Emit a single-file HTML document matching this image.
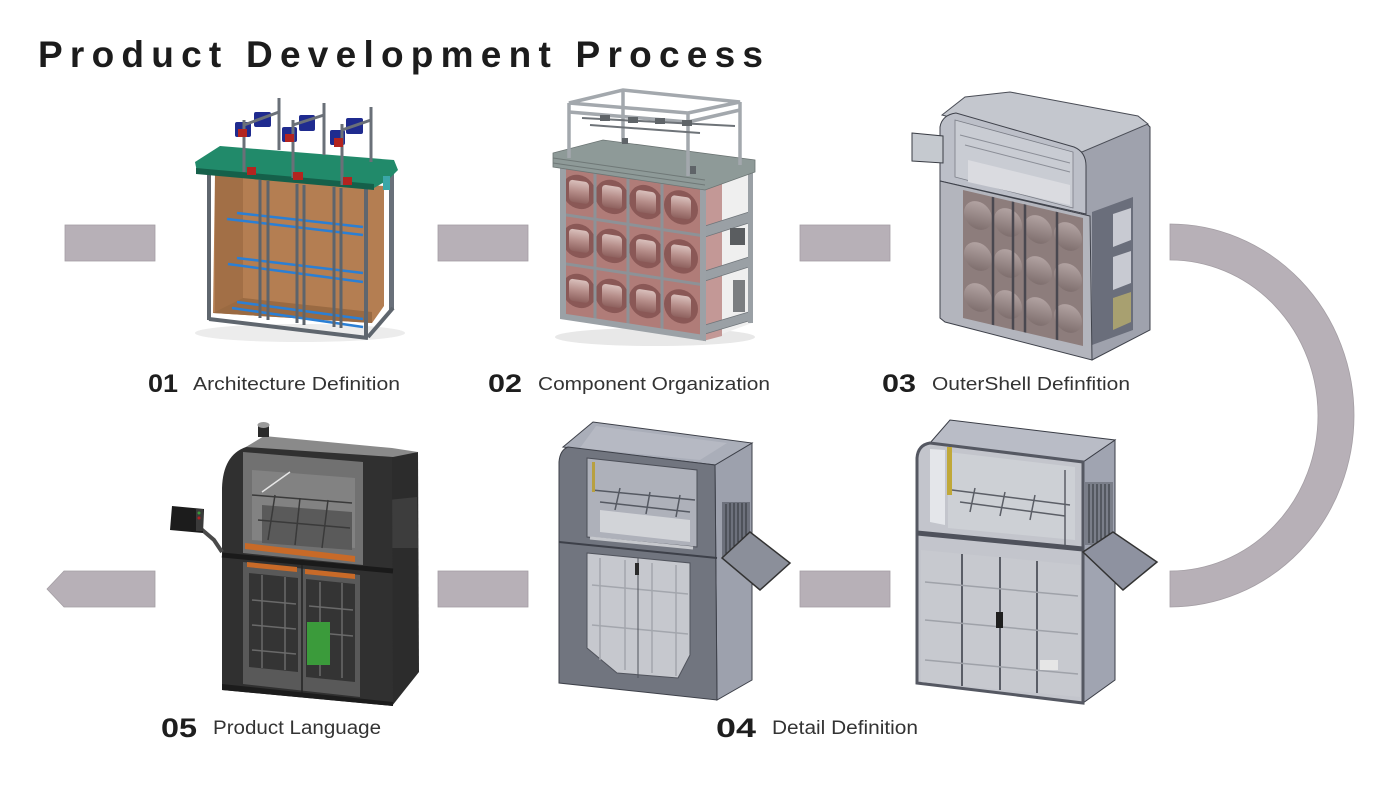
<!DOCTYPE html>
<html>
<head>
<meta charset="utf-8">
<style>
html,body{margin:0;padding:0;background:#fff;}
body{width:1400px;height:788px;overflow:hidden;}
svg{display:block;}
text{font-family:"Liberation Sans",Arial,sans-serif;}
</style>
</head>
<body>
<svg width="1400" height="788" viewBox="0 0 1400 788" xmlns="http://www.w3.org/2000/svg">
<defs>
<linearGradient id="cyl" x1="0" y1="0" x2="0" y2="1">
<stop offset="0" stop-color="#d9c0bc"/><stop offset="0.5" stop-color="#b58d89"/><stop offset="1" stop-color="#8e615e"/>
</linearGradient>
<linearGradient id="cyl3" x1="0" y1="0" x2="0" y2="1">
<stop offset="0" stop-color="#b2a3a2"/><stop offset="1" stop-color="#7f6f6e"/>
</linearGradient>
</defs>
<rect width="1400" height="788" fill="#fff"/>

<!-- Title -->
<text x="38" y="67" font-size="37" font-weight="bold" fill="#1c1c1c" textLength="725" lengthAdjust="spacing">Product Development Process</text>

<!-- Connectors -->
<g fill="#b7b0b7" stroke="#a49ea4" stroke-width="0.8">
<rect x="65" y="225" width="90" height="36"/>
<rect x="438" y="225" width="90" height="36"/>
<rect x="800" y="225" width="90" height="36"/>
<rect x="438" y="571" width="90" height="36"/>
<rect x="800" y="571" width="90" height="36"/>
<polygon points="47,589 64,571 155,571 155,607 64,607"/>
<path d="M1170,224 A184,191.5 0 0 1 1170,607 L1170,571 A148,155.5 0 0 0 1170,260 Z"/>
</g>

<!-- ===== Machine 01 ===== -->
<g>
<ellipse cx="300" cy="333" rx="105" ry="9" fill="#ececec"/>
<rect x="389" y="172" width="5" height="138" fill="#69707a"/>
<polygon points="215,173 384,186 384,306 372,323 213,313" fill="#b47e52"/>
<polygon points="215,175 243,178 243,300 215,312" fill="#a26f46"/>
<polygon points="243,298 372,312 372,323 213,313" fill="#9a6a42"/>
<g stroke="#2b7fd4" stroke-width="2.5">
<line x1="237" y1="213" x2="363" y2="227"/>
<line x1="227" y1="219" x2="363" y2="235"/>
<line x1="237" y1="258" x2="363" y2="273"/>
<line x1="228" y1="264" x2="363" y2="282"/>
<line x1="237" y1="302" x2="363" y2="319"/>
<line x1="232" y1="308" x2="363" y2="327"/>
</g>
<g stroke="#5d646c" stroke-width="3">
<line x1="260" y1="180" x2="260" y2="318"/>
<line x1="268" y1="181" x2="268" y2="320"/>
<line x1="297" y1="184" x2="297" y2="323"/>
<line x1="304" y1="185" x2="304" y2="325"/>
<line x1="334" y1="187" x2="334" y2="327"/>
<line x1="341" y1="188" x2="341" y2="328"/>
</g>
<g stroke="#5f666e" stroke-width="4" fill="none">
<line x1="209" y1="172" x2="209" y2="320"/>
<line x1="209" y1="319" x2="368" y2="338"/>
<line x1="366" y1="186" x2="366" y2="338"/>
<line x1="368" y1="337" x2="393" y2="308"/>
</g>
<polygon points="195,162 220,146 394,160 398,170 388,180 374,188 197,172" fill="#218a6a"/>
<polygon points="196,168 374,184 374,190 196,174" fill="#15604a"/>
<rect x="383" y="176" width="7" height="14" fill="#3aa7a8"/>
<g fill="#1f2b8f">
<rect x="235" y="122" width="16" height="15" rx="2"/>
<rect x="254" y="112" width="17" height="15" rx="2"/>
<rect x="282" y="127" width="15" height="15" rx="2"/>
<rect x="299" y="115" width="16" height="16" rx="2"/>
<rect x="330" y="130" width="15" height="15" rx="2"/>
<rect x="346" y="118" width="17" height="16" rx="2"/>
</g>
<g stroke="#6a7078" stroke-width="3">
<line x1="244" y1="120" x2="244" y2="172"/>
<line x1="279" y1="98" x2="279" y2="150"/>
<line x1="293" y1="120" x2="293" y2="178"/>
<line x1="324" y1="103" x2="324" y2="155"/>
<line x1="342" y1="124" x2="342" y2="185"/>
<line x1="371" y1="107" x2="371" y2="162"/>
<line x1="244" y1="125" x2="279" y2="112"/>
<line x1="293" y1="125" x2="324" y2="115"/>
<line x1="342" y1="130" x2="371" y2="120"/>
</g>
<g fill="#b3241f">
<rect x="238" y="129" width="9" height="8"/>
<rect x="247" y="167" width="9" height="8"/>
<rect x="285" y="134" width="9" height="8"/>
<rect x="293" y="172" width="10" height="8"/>
<rect x="334" y="138" width="9" height="9"/>
<rect x="343" y="177" width="9" height="8"/>
</g>
</g>

<!-- ===== Machine 02 ===== -->
<g>
<ellipse cx="655" cy="337" rx="100" ry="9" fill="#e8e8e8"/>
<polygon points="703,187 752,172 752,323 703,341" fill="#efefef"/>
<polygon points="703,187 722,182 722,336 703,341" fill="#c39896"/>
<g fill="#9aa0a5" stroke="#6f757a" stroke-width="0.8">
<polygon points="705,226 752,211 752,222 705,237"/>
<polygon points="705,271 752,256 752,266 705,281"/>
<polygon points="705,325 752,311 752,320 705,334"/>
</g>
<rect x="730" y="228" width="15" height="17" fill="#5a5d60"/>
<rect x="733" y="280" width="12" height="32" fill="#7a7d80"/>
<rect x="748" y="172" width="5" height="151" fill="#9aa0a5"/>
<g transform="matrix(1,0.152,0,1,560,163)">
<rect x="0" y="0" width="145" height="155" fill="#b07c78"/>
<g>
<circle cx="19" cy="26" r="17" fill="#8a5856"/><rect x="9" y="15" width="20" height="22" rx="4" fill="url(#cyl)"/>
<circle cx="52" cy="26" r="17" fill="#8a5856"/><rect x="42" y="15" width="20" height="22" rx="4" fill="url(#cyl)"/>
<circle cx="86" cy="26" r="17" fill="#8a5856"/><rect x="76" y="15" width="20" height="22" rx="4" fill="url(#cyl)"/>
<circle cx="121" cy="26" r="17" fill="#8a5856"/><rect x="111" y="15" width="20" height="22" rx="4" fill="url(#cyl)"/>
<circle cx="19" cy="75" r="17" fill="#8a5856"/><rect x="9" y="64" width="20" height="22" rx="4" fill="url(#cyl)"/>
<circle cx="52" cy="75" r="17" fill="#8a5856"/><rect x="42" y="64" width="20" height="22" rx="4" fill="url(#cyl)"/>
<circle cx="86" cy="75" r="17" fill="#8a5856"/><rect x="76" y="64" width="20" height="22" rx="4" fill="url(#cyl)"/>
<circle cx="121" cy="75" r="17" fill="#8a5856"/><rect x="111" y="64" width="20" height="22" rx="4" fill="url(#cyl)"/>
<circle cx="19" cy="125" r="17" fill="#8a5856"/><rect x="9" y="114" width="20" height="22" rx="4" fill="url(#cyl)"/>
<circle cx="52" cy="125" r="17" fill="#8a5856"/><rect x="42" y="114" width="20" height="22" rx="4" fill="url(#cyl)"/>
<circle cx="86" cy="125" r="17" fill="#8a5856"/><rect x="76" y="114" width="20" height="22" rx="4" fill="url(#cyl)"/>
<circle cx="121" cy="125" r="17" fill="#8a5856"/><rect x="111" y="114" width="20" height="22" rx="4" fill="url(#cyl)"/>
</g>
<g stroke="#8d9297" stroke-width="3">
<line x1="35" y1="0" x2="35" y2="155"/>
<line x1="68" y1="0" x2="68" y2="155"/>
<line x1="102" y1="0" x2="102" y2="155"/>
<line x1="0" y1="51" x2="143" y2="51"/>
<line x1="0" y1="100" x2="143" y2="100"/>
</g>
<rect x="0" y="0" width="6" height="155" fill="#9ba1a6"/>
<rect x="140" y="0" width="6" height="155" fill="#9ba1a6"/>
<rect x="0" y="150" width="146" height="6" fill="#9ba1a6"/>
</g>
<polygon points="553,153 603,140 755,160 755,172 705,190 553,167" fill="#8e9a98" stroke="#6c7574" stroke-width="0.8"/>
<g stroke="#6f7877" stroke-width="1">
<line x1="553" y1="158" x2="705" y2="180"/>
<line x1="553" y1="163" x2="705" y2="185"/>
</g>
<g stroke="#a3a8ad" stroke-width="3.5" fill="none">
<line x1="569" y1="103" x2="569" y2="158"/>
<line x1="623" y1="90" x2="623" y2="142"/>
<line x1="740" y1="102" x2="740" y2="165"/>
<line x1="688" y1="113" x2="688" y2="176"/>
<polygon points="569,103 623,90 740,102 688,113"/>
<line x1="569" y1="112" x2="688" y2="122"/>
<line x1="688" y1="122" x2="740" y2="110"/>
</g>
<g stroke="#6e7378" stroke-width="2">
<line x1="582" y1="118" x2="735" y2="126"/>
<line x1="590" y1="125" x2="700" y2="133"/>
</g>
<g fill="#5f6468">
<rect x="600" y="115" width="10" height="6"/><rect x="628" y="117" width="10" height="6"/>
<rect x="655" y="118" width="10" height="6"/><rect x="682" y="120" width="10" height="6"/>
<rect x="622" y="138" width="6" height="6"/><rect x="690" y="166" width="6" height="8"/>
</g>
</g>

<!-- ===== Machine 03 ===== -->
<g>
<polygon points="1080,150 1143,120 1150,127 1150,330 1092,360 1085,355" fill="#9fa2ad" stroke="#3f424b"/>
<polygon points="1092,212 1133,197 1133,330 1092,345" fill="#6a6e7b"/>
<polygon points="1113,214 1131,208 1131,240 1113,247" fill="#c8cad2"/>
<polygon points="1113,257 1131,251 1131,283 1113,290" fill="#c8cad2"/>
<polygon points="1113,298 1131,292 1131,322 1113,330" fill="#a8a070"/>
<polygon points="942,115 965,97 1010,92 1138,116 1148,124 1082,152" fill="#c4c7ce" stroke="#4a4d56"/>
<path d="M940,127 Q942,115 956,113 L1074,147 Q1086,152 1086,166 L1086,214 L940,181 Z" fill="#bcbfc8" stroke="#3f424b"/>
<polygon points="955,120 1073,152 1073,208 955,177" fill="#c9ccd3" stroke="#7a7d86" stroke-width="0.8"/>
<polygon points="968,160 1070,185 1070,205 968,182" fill="#dadbe0"/>
<g stroke="#8b8e97" stroke-width="1">
<line x1="960" y1="135" x2="1070" y2="163"/>
<line x1="965" y1="145" x2="1070" y2="172"/>
</g>
<polygon points="940,181 1090,216 1092,360 945,322 940,318" fill="#b3b5bd" stroke="#3f424b"/>
<g transform="matrix(1,0.233,0,1,963,190)">
<rect x="0" y="0" width="120" height="128" fill="#8d7d7c"/>
<circle cx="15" cy="22" r="14" fill="url(#cyl3)"/><circle cx="45" cy="22" r="14" fill="url(#cyl3)"/>
<circle cx="75" cy="22" r="14" fill="url(#cyl3)"/><circle cx="105" cy="22" r="14" fill="url(#cyl3)"/>
<circle cx="15" cy="63" r="14" fill="url(#cyl3)"/><circle cx="45" cy="63" r="14" fill="url(#cyl3)"/>
<circle cx="75" cy="63" r="14" fill="url(#cyl3)"/><circle cx="105" cy="63" r="14" fill="url(#cyl3)"/>
<circle cx="15" cy="104" r="14" fill="url(#cyl3)"/><circle cx="45" cy="104" r="14" fill="url(#cyl3)"/>
<circle cx="75" cy="104" r="14" fill="url(#cyl3)"/><circle cx="105" cy="104" r="14" fill="url(#cyl3)"/>
<g stroke="#4a4850" stroke-width="2.5">
<line x1="30" y1="0" x2="30" y2="128"/>
<line x1="50" y1="0" x2="50" y2="128"/>
<line x1="62" y1="0" x2="62" y2="128"/>
<line x1="94" y1="0" x2="94" y2="128"/>
</g>
</g>
<polygon points="912,133 943,136 943,163 912,161" fill="#c5c9cf" stroke="#3a3d45"/>
</g>

<!-- ===== Machine 05 ===== -->
<g>
<polygon points="392,455 418,452 419,672 392,706" fill="#2c2c2c"/>
<polygon points="388,500 417,497 418,548 388,548" fill="#3d3d3d"/>
<path d="M222,690 L222,488 Q223,455 246,447 L264,437 L392,450 L393,706 Z" fill="#303030"/>
<polygon points="246,447 264,436 392,448 418,452 393,457 364,455" fill="#8a8a8a"/>
<polygon points="243,452 363,462 363,565 243,553" fill="#717171"/>
<polygon points="252,470 355,478 355,548 252,540" fill="#828282"/>
<polygon points="262,505 352,512 352,550 262,543" fill="#5a5a5a"/>
<g stroke="#3a3a3a" stroke-width="1.5">
<line x1="252" y1="495" x2="352" y2="503"/>
<line x1="258" y1="520" x2="350" y2="528"/>
<line x1="275" y1="495" x2="268" y2="540"/>
<line x1="300" y1="498" x2="295" y2="545"/>
<line x1="328" y1="500" x2="322" y2="548"/>
</g>
<line x1="262" y1="492" x2="290" y2="472" stroke="#e6e6e6" stroke-width="1.5"/>
<line x1="222" y1="555" x2="393" y2="571" stroke="#1a1a1a" stroke-width="5"/>
<polygon points="245,543 355,556 355,562 245,549" fill="#c86a28"/>
<polygon points="243,562 360,575 360,697 243,684" fill="#595959"/>
<polygon points="249,573 298,578 298,672 249,667" fill="#343434"/>
<polygon points="306,579 355,584 355,682 306,677" fill="#343434"/>
<g stroke="#6a6a6a" stroke-width="1.5">
<line x1="252" y1="600" x2="296" y2="604"/><line x1="252" y1="625" x2="296" y2="629"/>
<line x1="252" y1="650" x2="296" y2="654"/><line x1="309" y1="606" x2="353" y2="610"/>
<line x1="309" y1="632" x2="353" y2="636"/><line x1="262" y1="575" x2="262" y2="668"/>
<line x1="285" y1="577" x2="285" y2="670"/><line x1="320" y1="582" x2="320" y2="676"/>
<line x1="342" y1="583" x2="342" y2="678"/>
</g>
<polygon points="247,562 297,567 297,572 247,567" fill="#c86a28"/>
<polygon points="305,569 355,574 355,579 305,574" fill="#c86a28"/>
<rect x="307" y="622" width="23" height="43" fill="#3b9b3b"/>
<line x1="302" y1="565" x2="302" y2="695" stroke="#222" stroke-width="1.5"/>
<polygon points="222,684 393,702 393,706 222,690" fill="#1c1c1c"/>
<rect x="258" y="425" width="11" height="12" fill="#2a2a2a"/>
<ellipse cx="263.5" cy="425" rx="6" ry="3" fill="#9a9a9a"/>
<polyline points="200,528 214,540 222,552" fill="none" stroke="#4a4a4a" stroke-width="4"/>
<polygon points="172,506 204,509 203,533 170,530" fill="#1c1c1c"/>
<rect x="196" y="509" width="7" height="22" fill="#3a3a3a"/>
<circle cx="199" cy="513" r="1.5" fill="#3a9a3a"/><circle cx="199" cy="518" r="1.5" fill="#b02020"/>
</g>

<!-- ===== Machine 04 (left) ===== -->
<g>
<polygon points="715,465 752,443 752,680 717,700" fill="#9da1ad" stroke="#3d4049"/>
<polygon points="563,447 593,422 752,443 715,465" fill="#aaaeb9" stroke="#3d4049"/>
<polygon points="596,426 727,443 700,460 580,448" fill="#b6b9c3"/>
<path d="M559,683 L559,462 Q560,450 568,447 L715,465 L717,700 Z" fill="#71757f" stroke="#3d4049"/>
<polygon points="587,458 697,470 697,547 587,537" fill="#aeb1ba" stroke="#4b4e57"/>
<polygon points="600,510 690,520 690,542 600,532" fill="#d2d4d8"/>
<g stroke="#555962" stroke-width="1.5">
<line x1="592" y1="490" x2="695" y2="500"/>
<line x1="600" y1="502" x2="690" y2="512"/>
<line x1="620" y1="488" x2="615" y2="510"/>
<line x1="650" y1="492" x2="646" y2="514"/>
<line x1="680" y1="495" x2="676" y2="517"/>
</g>
<rect x="592" y="462" width="3" height="30" fill="#b8a040"/>
<line x1="559" y1="542" x2="717" y2="558" stroke="#3d4049" stroke-width="2"/>
<line x1="590" y1="538" x2="693" y2="548" stroke="#c6c8cd" stroke-width="3"/>
<polygon points="587,553 690,563 690,655 678,678 617,673 587,648" fill="#c6c8ce" stroke="#50535c"/>
<g stroke="#a3a6ad" stroke-width="1.5">
<line x1="600" y1="558" x2="600" y2="660"/><line x1="625" y1="560" x2="625" y2="670"/>
<line x1="652" y1="563" x2="652" y2="673"/><line x1="676" y1="565" x2="676" y2="676"/>
<line x1="592" y1="585" x2="688" y2="594"/><line x1="592" y1="625" x2="688" y2="634"/>
</g>
<line x1="638" y1="558" x2="638" y2="678" stroke="#50535c" stroke-width="1"/>
<rect x="635" y="563" width="4" height="12" fill="#2a2a2a"/>
<rect x="722" y="502" width="28" height="56" fill="#6d717c"/>
<g stroke="#2f3238" stroke-width="1">
<line x1="726" y1="504" x2="726" y2="556"/><line x1="730" y1="503" x2="730" y2="556"/>
<line x1="734" y1="503" x2="734" y2="556"/><line x1="738" y1="503" x2="738" y2="556"/>
<line x1="742" y1="503" x2="742" y2="556"/><line x1="746" y1="503" x2="746" y2="556"/>
</g>
<polygon points="722,558 750,532 790,563 760,590" fill="#8b8f9a" stroke="#333" stroke-width="1.5"/>
</g>

<!-- ===== Machine 04 (right) ===== -->
<g>
<polygon points="1083,462 1115,440 1115,680 1083,703" fill="#a0a4b1" stroke="#3a3d46"/>
<polygon points="930,443 950,420 1115,440 1083,462" fill="#b9bcc6" stroke="#3a3d46"/>
<path d="M917,683 L917,458 Q918,445 930,443 L1083,462 L1083,703 Z" fill="#c3c5cc" stroke="#3a3d46"/>
<path d="M917,683 L917,458 Q918,445 930,443 L1083,462 L1083,703 Z" fill="none" stroke="#555862" stroke-width="3"/>
<polygon points="930,449 945,450 945,525 930,522" fill="#e4e6ea"/>
<polygon points="948,452 1075,467 1075,540 948,528" fill="#cdd0d5"/>
<g stroke="#5b5e66" stroke-width="1.5">
<line x1="952" y1="490" x2="1070" y2="505"/>
<line x1="960" y1="502" x2="1065" y2="516"/>
<line x1="975" y1="488" x2="970" y2="512"/>
<line x1="1005" y1="492" x2="1000" y2="516"/>
<line x1="1035" y1="495" x2="1030" y2="520"/>
<line x1="1065" y1="470" x2="1065" y2="545"/>
</g>
<rect x="947" y="447" width="5" height="48" fill="#c0a838"/>
<line x1="917" y1="533" x2="1083" y2="549" stroke="#4f525c" stroke-width="5"/>
<polygon points="921,550 1080,565 1080,697 921,682" fill="#c7c9cf"/>
<g stroke="#5a5d66" stroke-width="2">
<line x1="962" y1="554" x2="962" y2="686"/>
<line x1="1000" y1="557" x2="1000" y2="690"/>
<line x1="1037" y1="561" x2="1037" y2="693"/>
</g>
<g stroke="#9fa2a9" stroke-width="1.5">
<line x1="925" y1="582" x2="1078" y2="596"/><line x1="925" y1="620" x2="1078" y2="634"/>
<line x1="925" y1="660" x2="1078" y2="674"/>
</g>
<rect x="996" y="612" width="7" height="16" fill="#1e1e1e"/>
<rect x="1040" y="660" width="18" height="10" fill="#e6e6e6"/>
<rect x="1085" y="482" width="28" height="63" fill="#7a7e89"/>
<g stroke="#2f3238" stroke-width="1">
<line x1="1089" y1="484" x2="1089" y2="543"/><line x1="1093" y1="484" x2="1093" y2="543"/>
<line x1="1097" y1="484" x2="1097" y2="543"/><line x1="1101" y1="484" x2="1101" y2="543"/>
<line x1="1105" y1="484" x2="1105" y2="543"/><line x1="1109" y1="484" x2="1109" y2="543"/>
</g>
<polygon points="1083,552 1113,532 1157,562 1123,590" fill="#8e92a0" stroke="#333" stroke-width="1.5"/>
</g>

<!-- Labels -->
<g fill="#1e1e1e" font-weight="bold">
<text x="148" y="392" font-size="25" textLength="30" lengthAdjust="spacingAndGlyphs">01</text>
<text x="488" y="392" font-size="25" textLength="34" lengthAdjust="spacingAndGlyphs">02</text>
<text x="882" y="392" font-size="25" textLength="34" lengthAdjust="spacingAndGlyphs">03</text>
<text x="161" y="737" font-size="27" textLength="36" lengthAdjust="spacingAndGlyphs">05</text>
<text x="716" y="737" font-size="27" textLength="40" lengthAdjust="spacingAndGlyphs">04</text>
</g>
<g fill="#333">
<text x="193" y="390" font-size="18" textLength="207" lengthAdjust="spacingAndGlyphs">Architecture Definition</text>
<text x="538" y="390" font-size="18" textLength="232" lengthAdjust="spacingAndGlyphs">Component Organization</text>
<text x="932" y="390" font-size="18" textLength="198" lengthAdjust="spacingAndGlyphs">OuterShell Definfition</text>
<text x="213" y="734" font-size="19" textLength="168" lengthAdjust="spacingAndGlyphs">Product Language</text>
<text x="772" y="734" font-size="19" textLength="146" lengthAdjust="spacingAndGlyphs">Detail Definition</text>
</g>
</svg>
</body>
</html>
